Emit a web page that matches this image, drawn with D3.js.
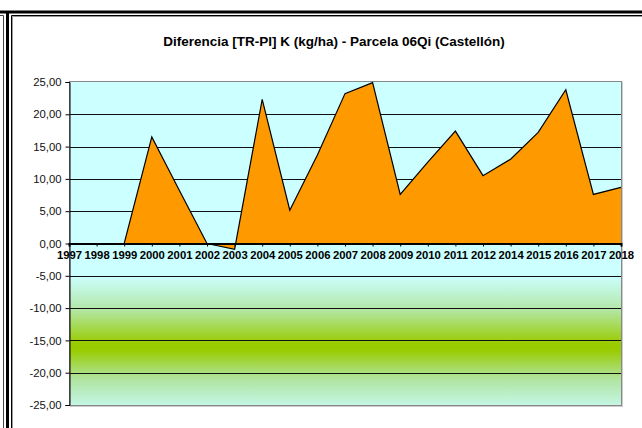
<!DOCTYPE html>
<html><head><meta charset="utf-8">
<script src="https://cdn.jsdelivr.net/npm/d3@7"></script>
<style>body{margin:0;background:#fff}svg{display:block}text{font-family:"Liberation Sans",Arial,sans-serif}</style>
</head><body>
<svg id="c" width="642" height="428"></svg>
<script>
const years = ["1997","1998","1999","2000","2001","2002","2003","2004","2005","2006","2007","2008","2009","2010","2011","2012","2014","2015","2016","2017","2018"];
const values = [0,0,0,16.5,8.2,0,-0.9,22.3,5.15,13.7,23.2,24.9,7.6,12.6,17.4,10.5,13.05,17.2,23.8,7.6,8.7];
const yTicks = [-25,-20,-15,-10,-5,0,5,10,15,20,25];
const title = "Diferencia [TR-PI] K (kg/ha) - Parcela 06Qi (Castellón)";

const svg = d3.select("#c");
const L=69, R=621, T=82, B=405;
const x = d3.scalePoint().domain(years).range([L,R]);
const y = d3.scaleLinear().domain([-25,25]).range([B,T]);

// frames
svg.append("line").attr("x1",0).attr("x2",642).attr("y1",12).attr("y2",12).attr("stroke","#000").attr("stroke-width",3);
svg.append("line").attr("x1",7.5).attr("x2",7.5).attr("y1",11).attr("y2",428).attr("stroke","#000").attr("stroke-width",3);
svg.append("path").attr("d","M0,15.5H3.5V428").attr("fill","none").attr("stroke","#444").attr("stroke-width",1);
svg.append("path").attr("d","M11.5,428V15.5H642").attr("fill","none").attr("stroke","#000").attr("stroke-width",1);
svg.append("path").attr("d","M12.5,428V16.5H642").attr("fill","none").attr("stroke","#999").attr("stroke-width",1);

// background gradient
const defs = svg.append("defs");
const g = defs.append("linearGradient").attr("id","bg").attr("x1",0).attr("x2",0).attr("y1",0).attr("y2",1);
const off = v => (y(v)-T)/(B-T);
[[25,"#CCFFFF"],[-5,"#CCFFFF"],[-10,"#B4E8AC"],[-15.5,"#99CC00"],[-16.5,"#99CC00"],[-21,"#B0E4A0"],[-25,"#C4F6E4"]]
  .forEach(([v,c])=>g.append("stop").attr("offset",off(v)).attr("stop-color",c));
svg.append("rect").attr("x",L).attr("y",T).attr("width",R-L).attr("height",B-T).attr("fill","url(#bg)");

// gridlines
svg.append("g").selectAll("line").data(yTicks.filter(v=>v!==0 && v!==25 && v!==-25)).join("line")
  .attr("x1",L).attr("x2",R).attr("y1",d=>Math.round(y(d))+0.5).attr("y2",d=>Math.round(y(d))+0.5)
  .attr("stroke","#111").attr("stroke-width",1);

// plot border
svg.append("rect").attr("x",L+0.5).attr("y",T-0.5).attr("width",R-L).attr("height",B-T+1)
  .attr("fill","none").attr("stroke","#888").attr("stroke-width",1);
svg.append("line").attr("x1",R+1.5).attr("x2",R+1.5).attr("y1",T).attr("y2",B+1).attr("stroke","#ccc");
svg.append("line").attr("x1",L+1).attr("x2",R+2).attr("y1",B+1.5).attr("y2",B+1.5).attr("stroke","#ccc");

// area
const area = d3.area().x((d,i)=>x(years[i])).y0(y(0)).y1(d=>y(d));
const line = d3.line().x((d,i)=>x(years[i])).y(d=>y(d));
svg.append("path").datum(values).attr("d",area).attr("fill","#FF9900").attr("stroke","none");
svg.append("path").datum(values).attr("d",line).attr("fill","none").attr("stroke","#000").attr("stroke-width",1.2).attr("stroke-linejoin","miter");

// y axis
const fmt = v => d3.format(".2f")(v).replace(".",",").replace("−","-");
const yAxis = svg.append("g").attr("transform",`translate(${L+0.5},0)`)
  .call(d3.axisLeft(y).tickValues(yTicks).tickSize(4).tickPadding(4).tickFormat(fmt));
yAxis.select(".domain").attr("stroke","#000");
yAxis.selectAll(".tick line").attr("stroke","#000");
yAxis.selectAll("text").attr("font-size",11.3).attr("fill","#111").attr("font-family",'"Liberation Sans",Arial,sans-serif');

// x axis at zero
const xAxis = svg.append("g").attr("transform",`translate(0,${y(0)})`)
  .call(d3.axisBottom(x).tickSize(3).tickPadding(4));
xAxis.select(".domain").attr("stroke","#000").attr("stroke-width",2);
xAxis.selectAll(".tick line").attr("stroke","#000");
xAxis.selectAll("text").attr("font-size",11.3).attr("font-weight","bold").attr("fill","#000").attr("font-family",'"Liberation Sans",Arial,sans-serif');

// title
svg.append("text").attr("x",334).attr("y",46).attr("text-anchor","middle")
  .attr("font-size",13.5).attr("font-weight","bold").attr("fill","#000").text(title);
</script>
</body></html>
